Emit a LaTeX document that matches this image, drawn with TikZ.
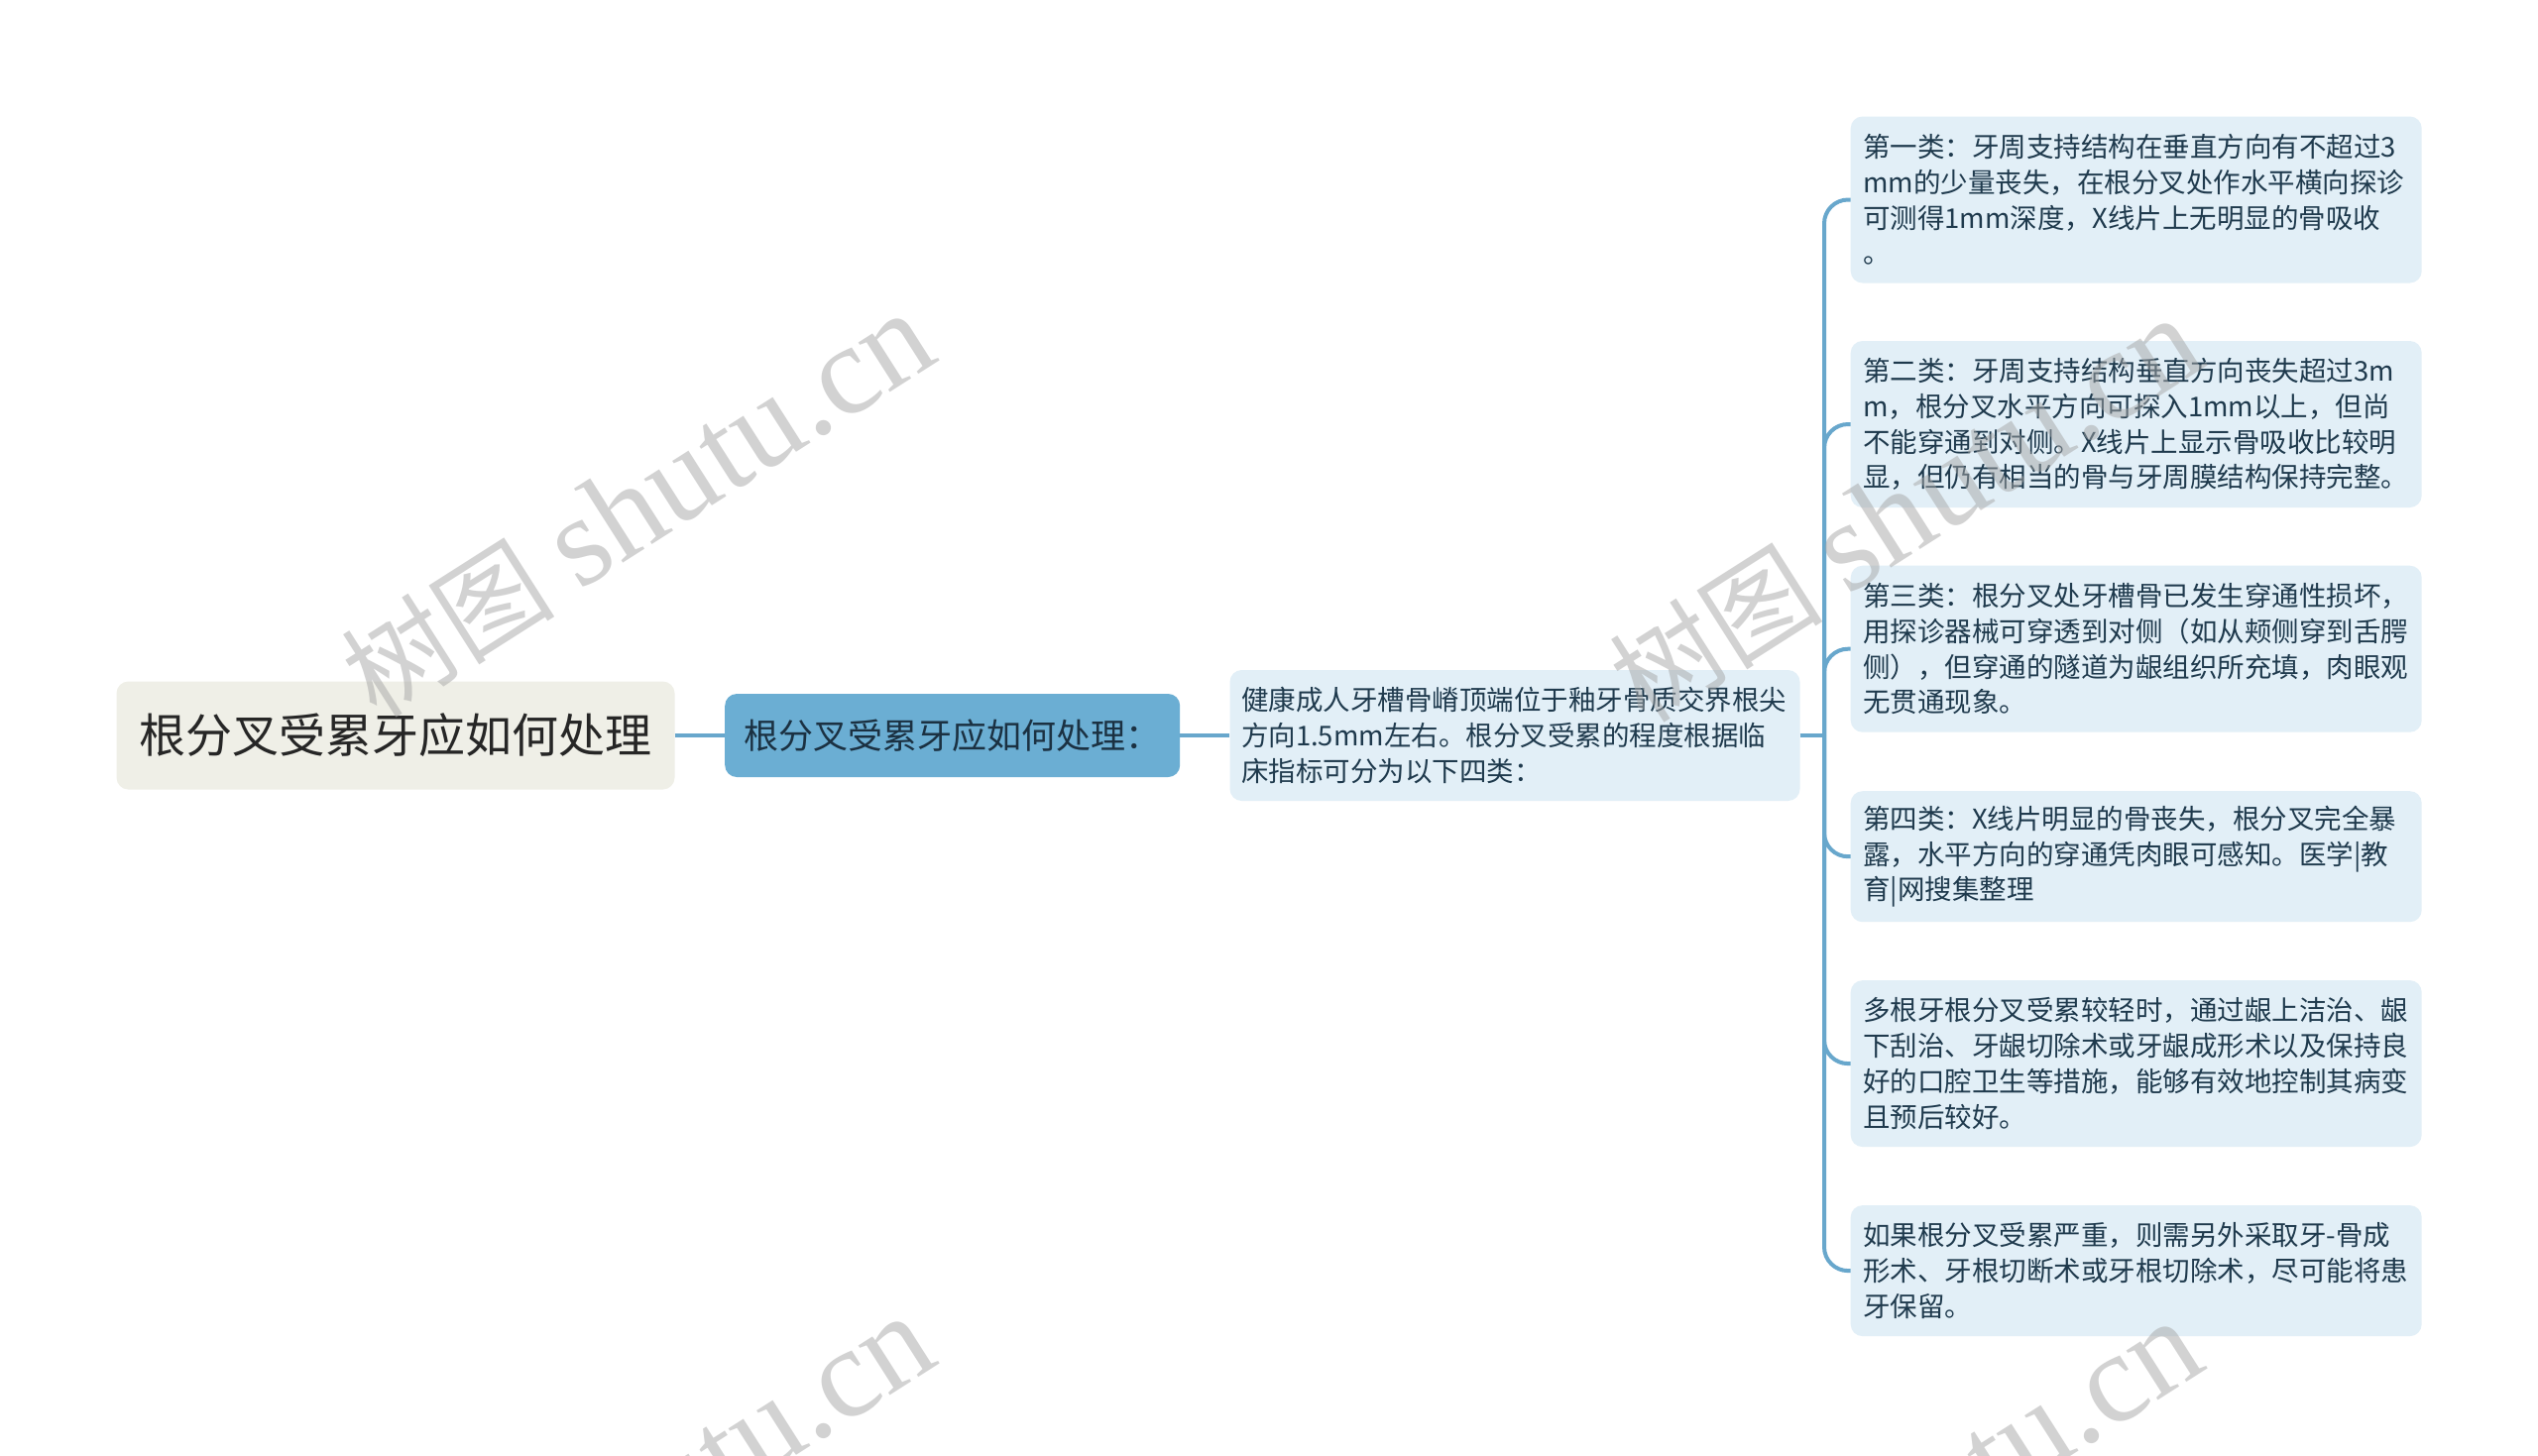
\documentclass[tikz,border=0pt]{standalone}
\usepackage{fontspec}
\setmainfont{Noto Sans CJK SC}
\newfontfamily\wmcjk{Noto Sans CJK SC}
\newfontfamily\wmserif{Liberation Serif}
\definecolor{rootfill}{HTML}{EFEFE7}
\definecolor{rootext}{HTML}{262626}
\definecolor{lonefill}{HTML}{6BAED3}
\definecolor{lonetext}{HTML}{1B3142}
\definecolor{leaffill}{HTML}{E2EFF7}
\definecolor{leaftext}{HTML}{1F3A4D}
\definecolor{linkc}{HTML}{68A7CC}
\begin{document}
\begin{tikzpicture}[x=1pt,y=-1pt,
  box/.style={rounded corners=12pt, inner sep=0pt, align=left, anchor=center},
  leaf/.style={box, fill=leaffill, text=leaftext, minimum width=576pt, text width=551pt, font=\fontsize{27.5}{35.8}\selectfont},
  link/.style={draw=linkc, line width=4pt},
  bracket/.style={link, rounded corners=24pt},
  wm/.style={rotate=32.5, text=black!35, opacity=0.5, inner sep=0pt},
]
\useasboundingbox (0,0) rectangle (2560,1468);
\fill[white] (0,0) rectangle (2560,1468);

\node[box, fill=rootfill, text=rootext, minimum width=563pt, minimum height=109pt,
  font=\fontsize{47}{56}\selectfont] (root) at (399,742) {根分叉受累牙应如何处理};
\node[box, fill=lonefill, text=lonetext, minimum width=459pt, minimum height=84pt,
  font=\fontsize{35}{42}\selectfont] (lone) at (960.7,742) {根分叉受累牙应如何处理：};
\node[box, fill=leaffill, text=leaftext, minimum width=575pt, minimum height=132pt, text width=552pt,
  font=\fontsize{27.5}{35.8}\selectfont] (ltwo) at (1528,742)
  {健康成人牙槽骨嵴顶端位于釉牙骨质交界根尖\\方向1.5mm左右。根分叉受累的程度根据临\\床指标可分为以下四类：};

\node[leaf, minimum height=168pt] (c1) at (2154.7,201.5)
  {第一类：牙周支持结构在垂直方向有不超过3\\mm的少量丧失，在根分叉处作水平横向探诊\\可测得1mm深度，X线片上无明显的骨吸收\\。};
\node[leaf, minimum height=168pt] (c2) at (2154.7,428)
  {第二类：牙周支持结构垂直方向丧失超过3m\\m，根分叉水平方向可探入1mm以上，但尚\\不能穿通到对侧。X线片上显示骨吸收比较明\\显，但仍有相当的骨与牙周膜结构保持完整。};
\node[leaf, minimum height=168pt] (c3) at (2154.7,654.7)
  {第三类：根分叉处牙槽骨已发生穿通性损坏，\\用探诊器械可穿透到对侧（如从颊侧穿到舌腭\\侧），但穿通的隧道为龈组织所充填，肉眼观\\无贯通现象。};
\node[leaf, minimum height=132pt] (c4) at (2154.7,864.2)
  {第四类：X线片明显的骨丧失，根分叉完全暴\\露，水平方向的穿通凭肉眼可感知。医学|教\\育|网搜集整理};
\node[leaf, minimum height=168pt] (c5) at (2154.7,1073.1)
  {多根牙根分叉受累较轻时，通过龈上洁治、龈\\下刮治、牙龈切除术或牙龈成形术以及保持良\\好的口腔卫生等措施，能够有效地控制其病变\\且预后较好。};
\node[leaf, minimum height=132pt] (c6) at (2154.7,1282.1)
  {如果根分叉受累严重，则需另外采取牙-骨成\\形术、牙根切断术或牙根切除术，尽可能将患\\牙保留。};

\coordinate (jn) at (1840,742);
\draw[link] (root.east) -- (lone.west);
\draw[link] (lone.east) -- (ltwo.west);
\draw[link] (ltwo.east) -- (jn);
\foreach \c in {c1,c2,c3,c4,c5,c6}{
  \draw[bracket] (jn) |- (\c.west);
}

\begin{scope}
\clip (0,0) rectangle (2560,1468);
\foreach \p in {(643,510),(1922,515),(643,1522),(1922,1527)}{
  \node[wm] at \p {{\wmcjk\fontsize{108}{113}\selectfont 树图}\hspace{26pt}{\wmserif\fontsize{129}{133}\selectfont shutu.cn}};
}
\end{scope}
\end{tikzpicture}
\end{document}
